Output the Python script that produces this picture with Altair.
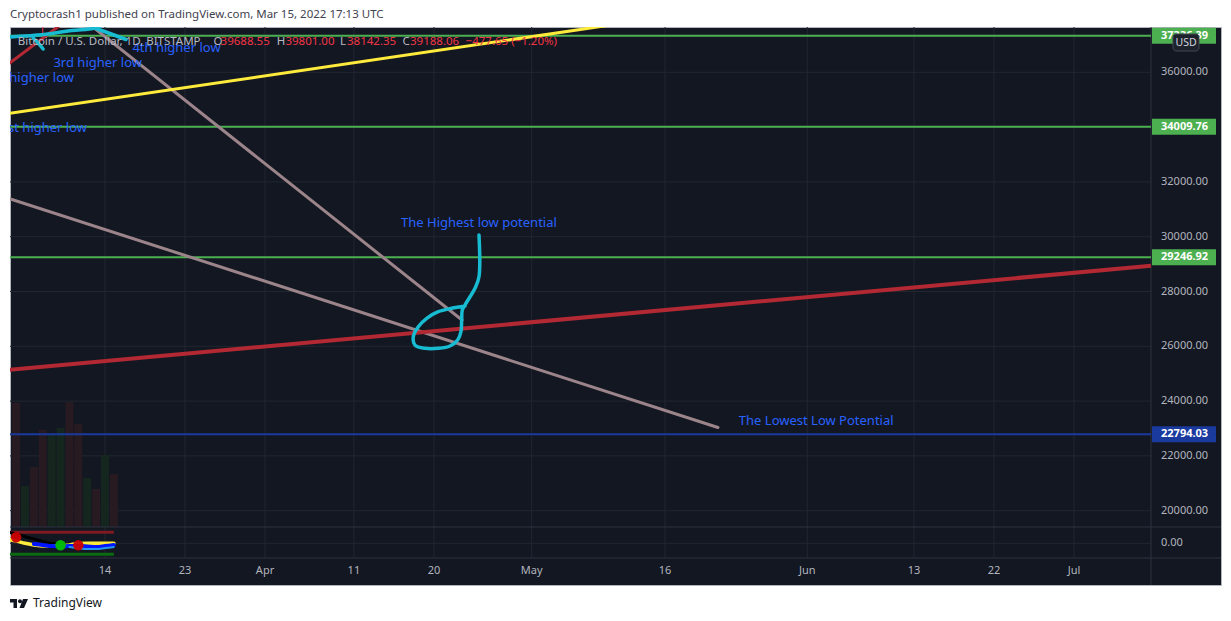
import altair as alt
import pandas as pd

# ---------------- data (days counted from 2022-03-01 = 0) ----------------
tick_days = [13, 22, 31, 41, 50, 61, 76, 92, 104, 113, 122]
tick_labels = ["14", "23", "Apr", "11", "20", "May", "16", "Jun", "13", "22", "Jul"]

price_ticks = [20000, 22000, 24000, 26000, 28000, 30000, 32000, 34000, 36000]
price_tick_labels = ["20000.00", "22000.00", "24000.00", "26000.00", "28000.00",
                     "30000.00", "32000.00", "34000.00", "36000.00"]

level_prices = [37336.39, 34009.76, 29246.92, 22794.03]
level_labels = ["37336.39", "34009.76", "29246.92", "22794.03"]

vol_days = [3, 4, 5, 6, 7, 8, 9, 10, 11, 12, 13, 14]
vol_values = [3100, 1025, 1500, 2425, 2300, 2475, 3125, 2575, 1225, 950, 1800, 1325]
vol_dir = ["down", "up", "down", "down", "up", "up", "down", "down", "up", "down", "up", "down"]

wick_days = [6, 6]
wick_prices = [37155, 39000]

yellow_days = [1.2, 70.9]
yellow_prices = [34449, 37774]
steep_days = [10.64, 53.16]
steep_prices = [37909, 26959]
shallow_days = [1.19, 81.95]
shallow_prices = [31500, 23035]
red_days = [2.31, 130.66]
red_prices = [25145, 28937]
red_top_days = [2.0, 8.73]
red_top_prices = [36266, 37909]

cyan_a_days = [1.5, 2.31, 5.46, 9.29, 11.88, 13.34]
cyan_a_prices = [37260, 37288, 37361, 37526, 37617, 37836]
cyan_b_days = [4.91, 5.48, 6.04]
cyan_b_prices = [37252, 37069, 36850]
cyan_c_days = [11.99, 13.56, 15.36]
cyan_c_prices = [37599, 37416, 37197]
loop_days = [55.07, 55.07, 54.62, 54.06, 53.49, 53.19, 53.12, 53.04, 52.67, 51.81,
             50.49, 49.0, 47.87, 47.68, 48.24, 49.19, 50.49, 52.0, 53.49]
loop_prices = [30061, 28539, 28116, 27809, 27506, 27324, 26959, 26532, 26229, 26010,
               25926, 25926, 26046, 26350, 26714, 27021, 27262, 27386, 27470]

note_left_texts = ["4th higher low", "3rd higher low", "The Highest low potential", "The Lowest Low Potential"]
note_left_days = [16.08, 7.2, 46.3, 84.3]
note_left_prices = [36876, 36328, 30488, 23272]
note_right_texts = ["2nd higher low", "1st higher low"]
note_right_days = [9.51, 10.98]
note_right_prices = [35803, 33956]

ind_days = [2, 3, 4, 5, 6, 7, 8, 9, 10, 11, 12, 13, 14]
wt_black = [62, 51, 36, 24, 10, -1, -7, -9, -12, -15, -16, -17, -18]
wt_yellow = [23, 13, 0, -9, -15, -15, -15, -9, -1, 0, 0, 0, 0]
blue_days = [5, 6, 7, 8, 9, 10, 11, 12, 13, 14]
wt_blue = [-4, -9, -15, -17, -15, -15, -17, -20, -15, -9]
lblue_days = [9, 10, 11, 12, 13, 14]
wt_lblue = [-20, -26, -31, -31, -26, -20]
dot_days = [3, 8, 10]
dot_values = [33, -11, -11]
dot_kind = ["sell", "buy", "sell"]
level_days = [2, 14]
ob_level = [60, 60]
os_level = [-60, -60]

header_gray = ["Bitcoin / U.S. Dollar, 1D, BITSTAMP", "O", "H", "L", "C"]
header_red = ["39688.55", "39801.00", "38142.35", "39188.06", "\u2212477.65 (\u22121.20%)"]
title_text = "Cryptocrash1 published on TradingView.com, Mar 15, 2022 17:13 UTC"

# ---------------- styles ----------------
BG = "#131722"
GRID = "#222631"
SEP = "#2f3341"
AXT = "#b2b5be"
FONT = "Noto Sans"
W, H = 1211, 558
PANE_X = 1141

header_gray_x = [7.8, 203.4, 266.7, 330, 392.4]
header_red_x = [210.6, 275.4, 337, 400, 455.6]

XS = alt.Scale(domain=[13, 122], range=[95, 1064], zero=False, nice=False)
YP = alt.Scale(domain=[20000, 36000], range=[483.7, 45.3], zero=False, nice=False)
YV = alt.Scale(domain=[0, 4000], range=[500, 340], zero=False, nice=False)
YI = alt.Scale(domain=[-60, 60], range=[527.3, 505.3], zero=False, nice=False)
ONE = pd.DataFrame({"k": [0]})


def X(field="day"):
    return alt.X(f"{field}:Q", scale=XS, axis=None)


def Y(field, sc):
    return alt.Y(f"{field}:Q", scale=sc, axis=None)


def line(days, vals, color, width, sc=YP, cap="round", interp="linear", opacity=1.0):
    df = pd.DataFrame({"day": days, "v": vals, "i": list(range(len(days)))})
    return alt.Chart(df).mark_line(color=color, strokeWidth=width, clip=True, strokeCap=cap,
                                   strokeJoin="round", interpolate=interp, opacity=opacity).encode(
        x=X(), y=Y("v", sc), order="i:Q")


layers = []

# grid
layers.append(alt.Chart(pd.DataFrame({"p": price_ticks})).mark_rule(color=GRID, strokeWidth=1).encode(
    y=Y("p", YP), x=alt.value(0), x2=alt.value(PANE_X)))
layers.append(alt.Chart(pd.DataFrame({"day": tick_days})).mark_rule(color=GRID, strokeWidth=1).encode(
    x=X(), y=alt.value(0), y2=alt.value(531)))
layers.append(alt.Chart(pd.DataFrame({"v": [0]})).mark_rule(color=GRID, strokeWidth=1).encode(
    y=Y("v", YI), x=alt.value(0), x2=alt.value(PANE_X)))

# volume
vol_df = pd.DataFrame({"day": vol_days, "vol": vol_values, "dir": vol_dir})
layers.append(alt.Chart(vol_df).transform_calculate(
    d0="datum.day - 0.45", d1="datum.day + 0.45", v0="0").mark_rect().encode(
    x=alt.X("d0:Q", scale=XS, axis=None), x2="d1:Q",
    y=Y("vol", YV), y2="v0:Q",
    color=alt.Color("dir:N", scale=alt.Scale(domain=["up", "down"], range=["#14261e", "#271a21"]), legend=None)))

# indicator pane
layers.append(line(level_days, ob_level, "#7d1a22", 3, YI, cap="butt"))
layers.append(line(level_days, os_level, "#0b6b12", 3, YI, cap="butt"))
layers.append(line(ind_days, wt_black, "#000000", 3, YI, interp="monotone"))
layers.append(line(ind_days, wt_yellow, "#ffeb3b", 3.5, YI, interp="monotone"))
layers.append(line(blue_days, wt_blue, "#0015ff", 4, YI, interp="monotone"))
layers.append(line(lblue_days, wt_lblue, "#2196f3", 2, YI, interp="monotone"))
dot_df = pd.DataFrame({"day": dot_days, "v": dot_values, "kind": dot_kind})
layers.append(alt.Chart(dot_df).mark_circle(size=110, opacity=0.95).encode(
    x=X(), y=Y("v", YI),
    color=alt.Color("kind:N", scale=alt.Scale(domain=["buy", "sell"], range=["#00c000", "#cc0000"]), legend=None)))

# pane separators
layers.append(alt.Chart(ONE).mark_rule(color=SEP).encode(x=alt.value(0), x2=alt.value(W), y=alt.value(500)))
layers.append(alt.Chart(ONE).mark_rule(color=SEP).encode(x=alt.value(0), x2=alt.value(W), y=alt.value(531)))
layers.append(alt.Chart(ONE).mark_rule(color=SEP).encode(x=alt.value(PANE_X), y=alt.value(0), y2=alt.value(H)))

# horizontal levels
lvl_df = pd.DataFrame({"p": level_prices, "label": level_labels})
lvl_colors = alt.Scale(domain=level_labels, range=["#4caf50", "#4caf50", "#4caf50", "#1a3a9e"])
layers.append(alt.Chart(lvl_df).mark_rule(strokeWidth=2).encode(
    y=Y("p", YP), x=alt.value(0), x2=alt.value(PANE_X),
    color=alt.Color("label:N", scale=lvl_colors, legend=None)))

# trend lines
layers.append(line(wick_days, wick_prices, "#f23645", 1, cap="butt"))
layers.append(line(shallow_days, shallow_prices, "#9c858a", 3))
layers.append(line(steep_days, steep_prices, "#9c858a", 3))
layers.append(line(red_days, red_prices, "#b22833", 4, cap="butt"))
layers.append(line(red_top_days, red_top_prices, "#b22833", 3))
layers.append(line(yellow_days, yellow_prices, "#ffeb3b", 3))

# cyan brush strokes
for d, p in [(cyan_a_days, cyan_a_prices), (cyan_b_days, cyan_b_prices),
             (cyan_c_days, cyan_c_prices), (loop_days, loop_prices)]:
    layers.append(line(d, p, "#18bcd2", 3.5, interp="catmull-rom"))

# annotations
nl = pd.DataFrame({"day": note_left_days, "p": note_left_prices, "t": note_left_texts})
layers.append(alt.Chart(nl).mark_text(align="left", baseline="middle", font=FONT, fontSize=13,
                                      color="#2962ff", clip=True).encode(x=X(), y=Y("p", YP), text="t:N"))
nr = pd.DataFrame({"day": note_right_days, "p": note_right_prices, "t": note_right_texts})
layers.append(alt.Chart(nr).mark_text(align="right", baseline="middle", font=FONT, fontSize=13,
                                      color="#2962ff", clip=True).encode(x=X(), y=Y("p", YP), text="t:N"))

# header legend
for txt, xx in zip(header_gray, header_gray_x):
    layers.append(alt.Chart(ONE).mark_text(align="left", baseline="middle", font=FONT, fontSize=11.5,
                                           color="#b7bac2", text=txt).encode(x=alt.value(xx), y=alt.value(15)))
for txt, xx in zip(header_red, header_red_x):
    layers.append(alt.Chart(ONE).mark_text(align="left", baseline="middle", font=FONT, fontSize=11.5,
                                           color="#f23645", text=txt).encode(x=alt.value(xx), y=alt.value(15)))

# right price axis
pt = pd.DataFrame({"p": price_ticks, "t": price_tick_labels})
layers.append(alt.Chart(pt).mark_text(align="left", baseline="middle", font=FONT, fontSize=11,
                                      color=AXT).encode(x=alt.value(1151), y=Y("p", YP), text="t:N"))
layers.append(alt.Chart(pd.DataFrame({"v": [0], "t": ["0.00"]})).mark_text(
    align="left", baseline="middle", font=FONT, fontSize=11, color=AXT).encode(
    x=alt.value(1151), y=Y("v", YI), text="t:N"))
layers.append(alt.Chart(lvl_df).mark_rule(strokeWidth=16, strokeCap="butt").encode(
    y=Y("p", YP), x=alt.value(PANE_X + 1), x2=alt.value(1206),
    color=alt.Color("label:N", scale=lvl_colors, legend=None)))
layers.append(alt.Chart(lvl_df).mark_text(align="left", baseline="middle", font=FONT, fontSize=11,
                                          fontWeight="bold", color="#ffffff").encode(
    x=alt.value(1151), y=Y("p", YP), text="label:N"))
layers.append(alt.Chart(ONE).mark_rect(fill="#1e222d", stroke="#434651", strokeWidth=1, cornerRadius=3).encode(
    x=alt.value(1163), x2=alt.value(1189), y=alt.value(7), y2=alt.value(24)))
layers.append(alt.Chart(ONE).mark_text(align="center", baseline="middle", font=FONT, fontSize=10.5,
                                       color="#d1d4dc", text="USD").encode(x=alt.value(1176), y=alt.value(15.5)))

# time axis
tl = pd.DataFrame({"day": tick_days, "t": tick_labels})
layers.append(alt.Chart(tl).mark_text(align="center", baseline="middle", font=FONT, fontSize=11,
                                      color=AXT).encode(x=X(), y=alt.value(544), text="t:N"))

# page title and footer
layers.append(alt.Chart(ONE).mark_text(align="left", baseline="middle", font=FONT, fontSize=11.5,
                                       color="#3f4250", text=title_text).encode(x=alt.value(0), y=alt.value(-12)))
logo_path = ("M-1,-0.5L-0.222,-0.5L-0.222,0.5L-0.611,0.5L-0.611,-0.111L-1,-0.111Z "
             "M-0.111,-0.256a0.222,0.222 0 1,0 0.444,0a0.222,0.222 0 1,0 -0.444,0Z "
             "M0.444,-0.5L1,-0.5L0.556,0.5L0.056,0.5Z")
layers.append(alt.Chart(ONE).mark_point(shape=logo_path, size=324, filled=True, fill="#131722",
                                        strokeWidth=0, opacity=1).encode(x=alt.value(9), y=alt.value(576.5)))
layers.append(alt.Chart(ONE).mark_text(align="left", baseline="middle", font=FONT, fontSize=12,
                                       color="#131722", text="TradingView").encode(x=alt.value(23), y=alt.value(576)))

chart = alt.layer(*layers).resolve_scale(y="independent", color="independent").properties(
    width=W, height=H, autosize="none",
    padding={"left": 2, "top": 19, "right": 2, "bottom": 28},
).configure(background="white").configure_view(fill=BG, stroke="#b2b5be", strokeWidth=1)

chart.save("out.html", embed_options={"renderer": "svg", "actions": False})
